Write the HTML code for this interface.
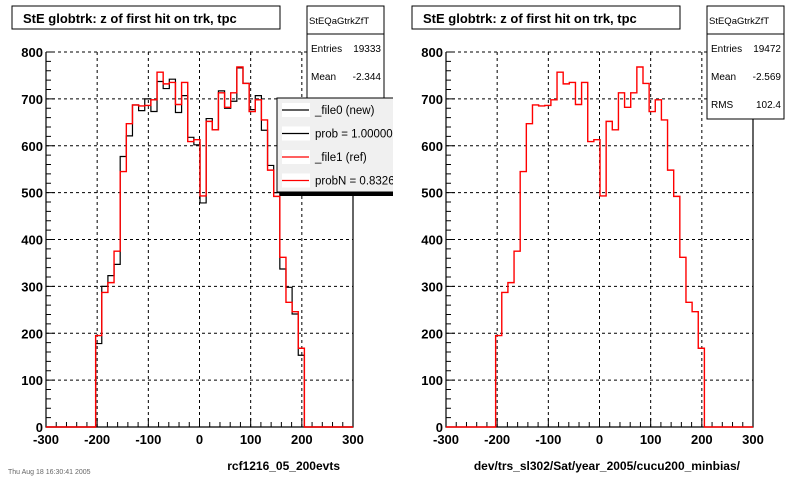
<!DOCTYPE html>
<html><head><meta charset="utf-8"><style>
body{margin:0;background:#fff}
svg{display:block;font-family:"Liberation Sans",Arial,sans-serif}
</style></head><body>
<svg id="c" width="800" height="480" viewBox="0 0 800 480"></svg>
<script>
const binStart=-203, binWidth=12;
const newValues=[178,300,323,347,577,621,687,675,700,673,737,722,742,671,707,618,602,478,658,634,717,680,695,766,733,677,707,633,558,500,337,298,241,153];
const refValues=[195,287,308,375,545,647,687,685,686,698,757,732,735,688,735,609,613,493,652,634,713,682,713,768,733,673,698,655,548,492,362,266,246,168];
const xTicks=[-300,-200,-100,0,100,200,300];
const yTicks=[0,100,200,300,400,500,600,700,800];
const NS='http://www.w3.org/2000/svg';
const svg=document.getElementById('c');
function el(tag,attrs,parent,text){const e=document.createElementNS(NS,tag);for(const k in attrs)e.setAttribute(k,attrs[k]);if(text!==undefined)e.textContent=text;(parent||svg).appendChild(e);return e;}
function panel(ox,series,xTitle,statEntries,statMean,showLegend,pname){
  const g=el('g',{});
  
  
  const L=ox+46,R=ox+353,T=52,B=427;
  const sx=v=>L+(v+300)/600*(R-L);
  const sy=v=>B-v/800*(B-T);
  xTicks.slice(1,-1).forEach(t=>{const l=el('line',{x1:sx(t),x2:sx(t),y1:T,y2:B,stroke:'#000','stroke-dasharray':'3,3','stroke-width':1},g);});
  yTicks.slice(1).forEach(t=>{const l=el('line',{x1:L,x2:R,y1:sy(t),y2:sy(t),stroke:'#000','stroke-dasharray':'3,3','stroke-width':1},g);});
  const f=el('path',{d:`M${L},${T}V${B}H${R}V${T}`,fill:'none',stroke:'#000','stroke-width':1.2},g);
  
  for(let v=-300;v<=300;v+=20){const maj=v%100===0;el('line',{x1:sx(v),x2:sx(v),y1:B,y2:B-(maj?9:5),stroke:'#000'},g);}
  for(let v=0;v<=800;v+=20){const maj=v%100===0;el('line',{x1:L,x2:L+(maj?9:5),y1:sy(v),y2:sy(v),stroke:'#000'},g);}
  xTicks.forEach(t=>{const tx=el('text',{x:sx(t),y:B+17,'text-anchor':'middle','font-size':13,'font-weight':'bold'},g,String(t));});
  yTicks.forEach(t=>{const tx=el('text',{x:L-3,y:sy(t)+5,'text-anchor':'end','font-size':13,'font-weight':'bold'},g,String(t));});
  series.forEach(s=>{
    let d=`M${L},${B}H${sx(binStart)}`;
    s.vals.forEach((v,i)=>{d+=`V${sy(v)}H${sx(binStart+(i+1)*binWidth)}`;});
    d+=`V${B}H${R}`;
    const p=el('path',{d:d,fill:'none',stroke:s.color,'stroke-width':s.w},g);
    
  });
  const tb=el('rect',{x:ox+12,y:6,width:268,height:23,fill:'#fff',stroke:'#000'},g);
  
  const tt=el('text',{x:ox+23,y:23,'font-size':13,'font-weight':'bold'},g,'StE globtrk: z of first hit on trk, tpc');
  
  const sb=el('rect',{x:ox+307,y:6,width:77,height:113,fill:'#fff',stroke:'#000'},g);
  
  el('line',{x1:ox+307,x2:ox+384,y1:34,y2:34,stroke:'#000'},g);
  el('text',{x:ox+309,y:24,'font-size':9.5},g,'StEQaGtrkZfT');
  el('text',{x:ox+311,y:52,'font-size':10},g,'Entries');
  el('text',{x:ox+381,y:52,'font-size':10,'text-anchor':'end'},g,statEntries);
  el('text',{x:ox+311,y:80,'font-size':10},g,'Mean');
  el('text',{x:ox+381,y:80,'font-size':10,'text-anchor':'end'},g,statMean);
  el('text',{x:ox+311,y:108,'font-size':10},g,'RMS');
  el('text',{x:ox+381,y:108,'font-size':10,'text-anchor':'end'},g,'102.4');
  if(showLegend){
    const lg=el('g',{},g);
    el('rect',{x:ox+280,y:101,width:120,height:95,fill:'#000'},lg);
    el('rect',{x:ox+277,y:98,width:120,height:94,fill:'#f0f0f0',stroke:'#000'},lg);
    const items=[['_file0 (new)','#000'],['prob = 1.000000','#000'],['_file1 (ref)','#f00'],['probN = 0.832619','#f00']];
    items.forEach((it,i)=>{const y=110+i*23.5;
      el('rect',{x:ox+282,y:y-7,width:28,height:14,fill:'#fff'},lg);
      el('line',{x1:ox+282,x2:ox+309,y1:y,y2:y,stroke:it[1],'stroke-width':1.2},lg);
      const tx=el('text',{x:ox+315,y:y+4,'font-size':11.5},lg,it[0]);
      });
  }
  const xt=el('text',{x:ox+340,y:470,'text-anchor':'end','font-size':12,'font-weight':'bold'},g,xTitle);
  
}
svg.innerHTML='<rect width="800" height="480" fill="#fff"/>';
panel(0,[{vals:newValues,color:'#000',w:1.2,name:'new-histogram'},{vals:refValues,color:'#f00',w:1.4,name:'ref-histogram'}],'rcf1216_05_200evts','19333','-2.344',true,'left-panel');
const ov=document.createElementNS(NS,'rect');ov.setAttribute('x',393);ov.setAttribute('y',90);ov.setAttribute('width',16);ov.setAttribute('height',110);ov.setAttribute('fill','#fff');svg.appendChild(ov);
panel(400,[{vals:refValues,color:'#f00',w:1.4,name:'ref-histogram'}],'dev/trs_sl302/Sat/year_2005/cucu200_minbias/','19472','-2.569',false,'right-panel');
const ft=document.createElementNS(NS,'text');ft.setAttribute('x',8);ft.setAttribute('y',474);ft.setAttribute('font-size',7);ft.setAttribute('fill','#666');ft.textContent='Thu Aug 18 16:30:41 2005';


svg.appendChild(ft);
</script>
</body></html>
